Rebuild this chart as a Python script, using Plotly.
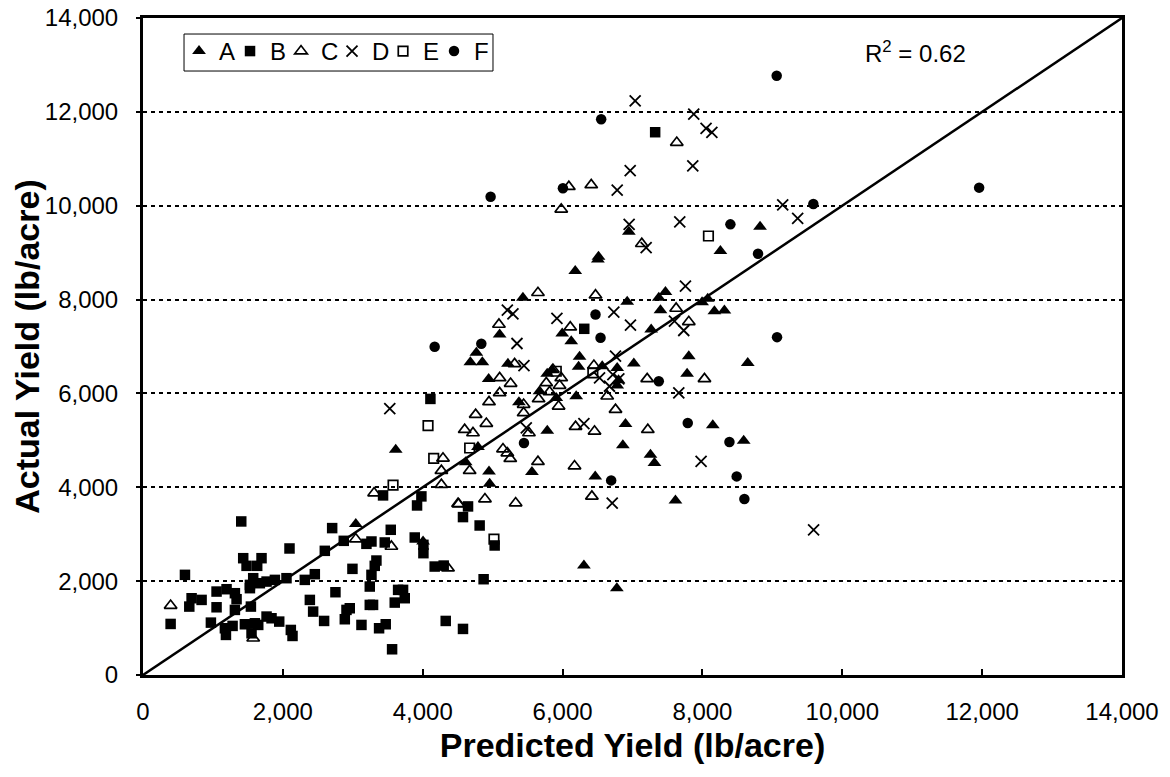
import plotly.graph_objects as go

# ---- data (Predicted, Actual) in lb/acre ----
A_x = [6505, 6181, 5433, 6924, 7376, 7471, 7400, 7995, 8076, 8171, 8314, 7267, 5995, 6124, 5100,
       4767, 4681, 4853, 5219, 6243, 6229, 6567, 6781, 6800, 6781, 7019, 7805, 7781, 6900, 6862,
       8148, 7257, 7314, 6467, 7614, 5562, 4957, 4948, 4614, 4790, 3614, 5781, 5376, 4943, 5671,
       5780, 5850, 5910, 6195, 6948, 8824, 8257, 6514, 8648, 8590, 6305, 6776, 4005, 3043]
A_y = [8856, 8607, 8039, 7953, 8039, 8159, 7771, 7945, 8017, 7753, 7768, 7362, 7277, 7113, 7256,
       6865, 6665, 6665, 6630, 6779, 6566, 6580, 6544, 6280, 6167, 6637, 6793, 6417, 5350, 4894,
       5321, 4695, 4517, 4232, 3720, 4325, 4076, 4339, 4531, 4858, 4801, 5207, 5812, 6310, 6046,
       6420, 6500, 5904, 5940, 9446, 9553, 9034, 8914, 6651, 4994, 2332, 1850, 2845, 3215]

B_x = [4110, 3433, 3981, 3919, 4648, 4576, 4814, 1405, 2705, 3543, 3886, 4010, 4010, 3457, 2871,
       3195, 3267, 2095, 2600, 3338, 3314, 3267, 2995, 1433, 1695, 1481, 1633, 600, 4171, 4300,
       1576, 1529, 1671, 1767, 1886, 2052, 2314, 2457, 3243, 1052, 1195, 1314, 1338, 695, 838,
       662, 1052, 1314, 1543, 2386, 2433, 2752, 3243, 3290, 2957, 2886, 2910, 3648, 3719, 3743,
       3600, 3471, 3376, 2590, 3124, 4329, 4576, 3562, 395, 971, 1171, 1186, 1281, 1457, 1600,
       1648, 1767, 1838, 1948, 1552, 2114, 2138, 6310, 7324, 5029, 4871, 1529]
B_y = [5883, 3827, 3806, 3613, 3592, 3365, 3186, 3272, 3130, 3094, 2930, 2774, 2596, 2824, 2859,
       2795, 2845, 2696, 2646, 2439, 2326, 2134, 2262, 2489, 2489, 2326, 2326, 2134, 2311, 2332,
       2063, 1850, 1956, 1991, 2027, 2063, 2027, 2148, 1885, 1778, 1828, 1743, 1615, 1636, 1600,
       1458, 1443, 1387, 1458, 1600, 1351, 1764, 1494, 1494, 1422, 1188, 1387, 1814, 1814, 1636,
       1543, 1081, 996, 1152, 1067, 1152, 982, 548, 1088, 1116, 996, 854, 1046, 1081, 1102,
       1067, 1245, 1209, 1138, 889, 960, 832, 7377, 11566, 2760, 2041, 1920]

C_x = [4757, 4600, 4719, 4290, 4267, 4671, 4267, 3305, 4505, 3043, 3552, 4362, 395, 1576,
       5648, 6471, 7624, 7805, 6110, 5090, 5314, 6448, 6638, 8029, 7210, 6757, 7219, 6419, 6171,
       5648, 5329, 4890, 4514, 5148, 5210, 5252, 5519, 6186, 6457, 4910, 5443, 5443, 4948, 5100,
       5257, 5100, 5657, 5814, 5767, 5943, 5957, 5981, 5862, 7633, 6410, 6090, 5981, 7133]
C_y = [5548, 5228, 5157, 4617, 4353, 4353, 4055, 3877, 3649, 2896, 2738, 2276, 1480, 783,
       8145, 8094, 7810, 7526, 7412, 7469, 6630, 6594, 5940, 6310, 6310, 5655, 5228, 3806, 4453,
       4545, 3664, 3749, 3642, 4815, 4730, 4609, 5157, 5293, 5193, 5357, 5584, 5762, 5819, 6331,
       6210, 6011, 5883, 6032, 6224, 5726, 6167, 6331, 6509, 11346, 10442, 10406, 9923, 9190]

D_x = [3529, 7757, 7600, 7733, 6971, 6733, 5919, 5210, 5290, 5348, 5448, 6529, 6757, 6719, 6805,
       6671, 7662, 7981, 6710, 5481, 6305, 7038, 7876, 8052, 8135, 7862, 6967, 6781, 9148, 9362,
       6952, 7676, 7195, 9590]
D_y = [5677, 8287, 7540, 7341, 7454, 7732, 7597, 7775, 7697, 7064, 6594, 6331, 6793, 6402, 6310,
       6153, 6011, 4553, 3664, 5264, 5357, 12235, 11950, 11650, 11565, 10847, 10750, 10330, 10016, 9731,
       9603, 9655, 9105, 3094]

E_x = [4076, 4671, 4157, 3576, 6433, 5910, 8086, 5019]
E_y = [5314, 4837, 4617, 4048, 6438, 6473, 9355, 2896]

F_x = [4171, 4838, 6471, 6543, 7376, 7790, 6695, 5448, 6552, 6005, 9586, 8400, 8795, 9067, 8386,
       8490, 8600, 11957, 9062, 4971]
F_y = [6993, 7057, 7682, 7185, 6260, 5371, 4147, 4943, 11844, 10371, 10037, 9603, 8978, 7199, 4966,
       4232, 3749, 10385, 12768, 10192]

one_to_one = [0, 14000]
tick_vals = [0, 2000, 4000, 6000, 8000, 10000, 12000, 14000]
r2_text = "R<sup>2</sup> = 0.62"
r2_pos = (11050, 13280)

FONT = "Arial, Liberation Sans, sans-serif"

fig = go.Figure()
fig.add_trace(go.Scatter(x=one_to_one, y=one_to_one, mode="lines",
                         line=dict(color="black", width=2.5), showlegend=False, hoverinfo="skip"))

series = [
    ("A", A_x, A_y, "triangle-up", 12, 0),
    ("B", B_x, B_y, "square", 10.5, 0),
    ("C", C_x, C_y, "triangle-up-open", 11, 1.7),
    ("D", D_x, D_y, "x-thin-open", 11, 1.8),
    ("E", E_x, E_y, "square-open", 9.5, 1.7),
    ("F", F_x, F_y, "circle", 10.5, 0),
]
for name, xs, ys, sym, sz, lw in series:
    fig.add_trace(go.Scatter(
        x=xs, y=ys, mode="markers", name=name,
        marker=dict(symbol=sym, size=sz, color="black",
                    line=dict(color="black", width=lw))))

# spacer entry (invisible) so the last legend label is not clipped
fig.add_trace(go.Scatter(x=[None], y=[None], mode="lines", name=" ",
                         line=dict(color="rgba(0,0,0,0)", width=0),
                         showlegend=True, hoverinfo="skip"))

fig.add_annotation(x=r2_pos[0], y=r2_pos[1], xref="x", yref="y", text=r2_text,
                   showarrow=False, font=dict(family=FONT, size=24, color="black"))

# legend frame
fig.add_shape(type="rect", xref="paper", yref="paper",
              x0=0.0419, x1=0.3575, y0=0.9193, y1=0.9756,
              line=dict(color="black", width=1), fillcolor="rgba(0,0,0,0)")

fig.update_layout(
    width=1162, height=769,
    margin=dict(l=135, r=48, t=10, b=102, autoexpand=False),
    paper_bgcolor="white", plot_bgcolor="white",
    font=dict(family=FONT, size=24, color="black"),
    legend=dict(orientation="h", x=0.0368, y=0.9833, xanchor="left", yanchor="top",
                borderwidth=0, bgcolor="rgba(0,0,0,0)",
                font=dict(family=FONT, size=24, color="black"),
                entrywidth=6, entrywidthmode="pixels", tracegroupgap=0),
    showlegend=True,
)
fig.update_xaxes(range=[0, 14000], tickvals=tick_vals, tickformat=",",
                 showgrid=False, zeroline=False, ticklabeloverflow="allow",
                 showline=True, linecolor="black", linewidth=3, mirror=True,
                 ticks="inside", ticklen=6, tickwidth=1.5, tickcolor="black",
                 ticklabelstandoff=13,
                 title=dict(text="Predicted Yield (lb/acre)", standoff=10,
                            font=dict(family=FONT, size=34, color="black", weight="bold")))
fig.update_yaxes(range=[0, 14000], tickvals=tick_vals, tickformat=",",
                 showgrid=True, gridcolor="black", gridwidth=2, griddash="4px,4px",
                 zeroline=False, ticklabeloverflow="allow",
                 showline=True, linecolor="black", linewidth=3, mirror=True,
                 ticks="outside", ticklen=4, tickwidth=1.5, tickcolor="black",
                 ticklabelstandoff=13,
                 title=dict(text="Actual Yield (lb/acre)", standoff=9,
                            font=dict(family=FONT, size=34, color="black", weight="bold")))

fig.write_html("out.html")
